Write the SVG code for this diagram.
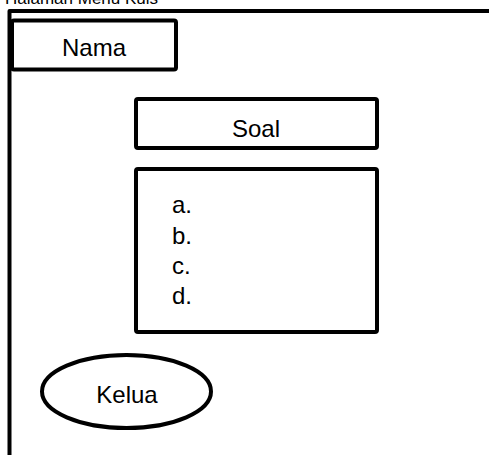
<svg xmlns="http://www.w3.org/2000/svg" width="489" height="455" viewBox="0 0 489 455">
<style>
.box{fill:#fff;stroke:#000;stroke-width:4;stroke-linejoin:round}
.t{font-family:"Liberation Sans",Arial,sans-serif;font-size:24px;fill:#000}
</style>
<rect x="0" y="0" width="489" height="455" fill="#fff"/>
<text class="t" x="5" y="4" style="font-size:17px">Halaman Menu Kuis</text>
<g id="frame"><path d="M9.5 455 V11 H489" fill="none" stroke="#000" stroke-width="4" stroke-linejoin="round"/></g>
<g id="nama"><rect class="box" x="12" y="20.5" width="164" height="49" rx="2"/><text class="t" x="94" y="56" text-anchor="middle">Nama</text></g>
<g id="soal"><rect class="box" x="136" y="99" width="241" height="49" rx="2"/><text class="t" x="256" y="137" text-anchor="middle">Soal</text></g>
<g id="pilihan"><rect class="box" x="136" y="169" width="241" height="163" rx="2"/>
<text class="t" x="172" y="213">a.</text>
<text class="t" x="172" y="243.5">b.</text>
<text class="t" x="172" y="273.5">c.</text>
<text class="t" x="172" y="303.5">d.</text></g>
<g id="keluar"><ellipse class="box" cx="126.5" cy="391.5" rx="84.5" ry="36.5"/><text class="t" x="127" y="403" text-anchor="middle">Kelua</text></g>
<g id="connectors"></g>
</svg>
